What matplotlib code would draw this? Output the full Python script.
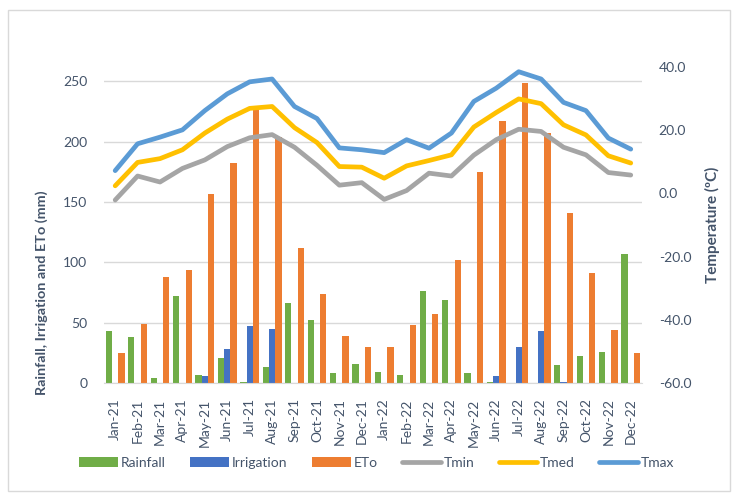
import numpy as np
import matplotlib
matplotlib.use("Agg")
import matplotlib.pyplot as plt
from matplotlib.patches import Rectangle

plt.rcParams["font.family"] = ["Lato", "DejaVu Sans"]

# ── data ──────────────────────────────────────────────────
months = ["Jan-21", "Feb-21", "Mar-21", "Apr-21", "May-21", "Jun-21",
          "Jul-21", "Aug-21", "Sep-21", "Oct-21", "Nov-21", "Dec-21",
          "Jan-22", "Feb-22", "Mar-22", "Apr-22", "May-22", "Jun-22",
          "Jul-22", "Aug-22", "Sep-22", "Oct-22", "Nov-22", "Dec-22"]

rainfall   = [43, 38, 4, 72, 7, 21, 0.5, 13, 66, 52, 8, 16,
              9, 7, 76, 69, 8, 1, 0, 0, 15, 22, 26, 107]
irrigation = [0, 0, 0, 0, 6, 28, 47, 45, 0, 0, 0, 0,
              0, 0, 0, 0, 0, 6, 30, 43, 1, 0, 0, 0]
eto        = [25, 49, 88, 94, 157, 182, 226, 204, 112, 74, 39, 30,
              30, 48, 57, 102, 175, 217, 249, 207, 141, 91, 44, 25]

tmin = [-2.1, 5.5, 3.6, 7.9, 10.6, 14.8, 17.6, 18.6, 14.6, 8.9, 2.6, 3.4,
        -1.9, 0.9, 6.4, 5.5, 12.1, 17.0, 20.3, 19.6, 14.6, 12.2, 6.6, 5.8]
tmed = [2.4, 9.8, 11.0, 13.8, 19.1, 23.5, 26.9, 27.5, 20.8, 16.1, 8.5, 8.3,
        4.8, 8.7, 10.4, 12.2, 21.0, 25.6, 29.9, 28.4, 21.7, 18.5, 11.9, 9.6]
tmax = [7.2, 15.7, 17.8, 20.1, 26.2, 31.5, 35.3, 36.2, 27.5, 23.7, 14.4, 13.8,
        12.9, 17.0, 14.3, 19.1, 29.1, 33.3, 38.5, 36.2, 28.8, 26.2, 17.5, 14.0]

TXT = "#44546A"
GRID = "#D9D9D9"

fig = plt.figure(figsize=(7.39, 4.98), dpi=100)
ax = fig.add_axes([0.1407, 0.2309, 0.7280, 0.6346])
ax2 = ax.twinx()

# chart-area border
fig.patches.append(Rectangle((8 / 739, 1 - 491 / 498), 722 / 739, 481 / 498,
                             transform=fig.transFigure, fill=False,
                             edgecolor=GRID, lw=1.0))

x = np.arange(len(months))
w = 0.28
b1 = ax.bar(x - w, rainfall, w, color="#70AD47", label="Rainfall", zorder=2)
b2 = ax.bar(x, irrigation, w, color="#4472C4", label="Irrigation", zorder=2)
b3 = ax.bar(x + w, eto, w, color="#ED7D31", label="ETo", zorder=2)

l1, = ax2.plot(x, tmin, color="#A5A5A5", lw=3.4, solid_capstyle="round",
               solid_joinstyle="round", label="Tmin")
l2, = ax2.plot(x, tmed, color="#FFC000", lw=3.4, solid_capstyle="round",
               solid_joinstyle="round", label="Tmed")
l3, = ax2.plot(x, tmax, color="#5B9BD5", lw=3.4, solid_capstyle="round",
               solid_joinstyle="round", label="Tmax")

# left axis
ax.set_xlim(-0.5, len(months) - 0.5)
ax.set_ylim(0, 262)
ax.set_yticks([0, 50, 100, 150, 200, 250])
ax.grid(axis="y", color=GRID, lw=1.0, zorder=0)
ax.set_axisbelow(True)
ax.set_xticks(x)
ax.set_xticklabels(months, rotation=90, fontsize=10, color=TXT)
ax.tick_params(axis="both", length=0, labelsize=10, labelcolor=TXT)
ax.tick_params(axis="y", pad=12)
ax.tick_params(axis="x", pad=11)
ax.set_ylabel("Rainfall, Irrigation and ETo (mm)", fontsize=10.4,
              fontweight="bold", color=TXT)
ax.yaxis.set_label_coords(-0.104, 0.285)

# right axis
ax2.set_ylim(-60, 40)
ax2.set_yticks([-60, -40, -20, 0, 20, 40])
ax2.set_yticklabels([f"{v:.1f}" for v in [-60, -40, -20, 0, 20, 40]])
ax2.tick_params(axis="y", length=0, labelsize=10, labelcolor=TXT, pad=12)
ax2.set_ylabel("Temperature (ºC)", fontsize=11, fontweight="bold",
               color=TXT, labelpad=10)

for a in (ax, ax2):
    for s in a.spines.values():
        s.set_visible(False)
ax.spines["bottom"].set_visible(True)
ax.spines["bottom"].set_color(GRID)

leg = fig.legend([b1, b2, b3, l1, l2, l3],
                 ["Rainfall", "Irrigation", "ETo", "Tmin", "Tmed", "Tmax"],
                 loc="center", bbox_to_anchor=(0.51, 1 - 463 / 498), ncol=6,
                 frameon=False, fontsize=10, handlelength=2.8,
                 handleheight=0.7, handletextpad=0.2, columnspacing=1.75)
for t in leg.get_texts():
    t.set_color(TXT)

fig.savefig("out.png", dpi=100)
